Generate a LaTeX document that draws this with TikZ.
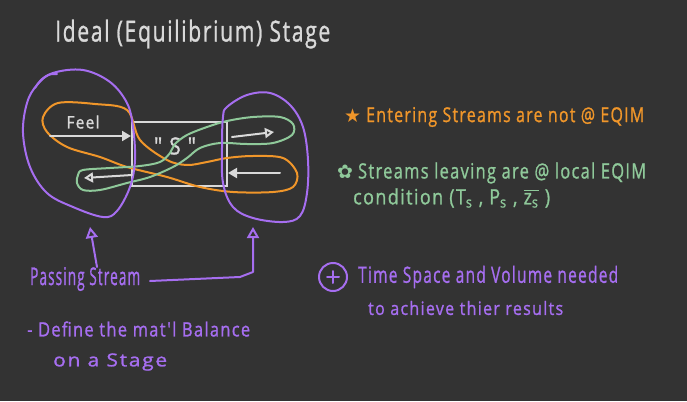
\documentclass[tikz,border=0pt]{standalone}
\usepackage{fontspec}
\usetikzlibrary{arrows.meta}
\newfontfamily\hand[LetterSpace=8,FakeBold=1.2]{Open Sans}
\newfontfamily\symf{DejaVu Sans}
\definecolor{bg}{HTML}{333333}
\definecolor{chalk}{HTML}{D9D9D9}
\definecolor{lav}{HTML}{A66EF0}
\definecolor{org}{HTML}{F0962A}
\definecolor{mint}{HTML}{8FC99A}
\newcommand{\hw}[3]{\resizebox{#1}{#2}{\hand #3}}
\begin{document}
\begin{tikzpicture}[x=1pt,y=-1pt,
  txt/.style={anchor=west, inner sep=0pt},
  stroke/.style={line width=2pt, line cap=round, line join=round},
  blob/.style={stroke, lav},
  loopo/.style={stroke, org},
  loopg/.style={stroke, mint},
  flow/.style={stroke, chalk},
  fillhead/.style={-{Triangle[length=9pt,width=10pt]}},
  openhead/.style={-{Triangle[open,length=9pt,width=10pt]}},
  bighead/.style={-{Triangle[open,length=11pt,width=12pt]}}]
\fill[bg] (0,0) rectangle (687,401);
\useasboundingbox (0,0) rectangle (687,401);

% title
\node[txt, text=chalk] (title) at (55,34) {\hw{275pt}{22pt}{Ideal (Equilibrium) Stage}};

% stage box
\node[draw=chalk, line width=2pt, minimum width=95pt, minimum height=64pt, inner sep=0pt] (stage) at (179.5,153.5) {};
\node[text=chalk, inner sep=0pt] (s) at (175,146) {\hw{42pt}{17pt}{"\,\,S\,\,"}};

% orange loop
\draw[loopo] plot[smooth cycle, tension=0.55] coordinates {
 (58,103) (95,104) (127,110) (140,140) (167,160) (187,165) (207,162) (227,158)
 (253,156) (283,158) (297,173) (293,187) (273,192) (233,192) (200,187)
 (167,177) (127,167) (100,157) (67,147) (47,132) (43,117)};

% green loop
\draw[loopg] plot[smooth cycle, tension=0.55] coordinates {
 (83,170) (110,168) (140,166) (160,162) (170,153) (175,144) (187,135) (207,127)
 (227,121) (253,117) (280,117) (293,124) (292,135) (273,143) (247,144)
 (220,143) (200,148) (187,158) (173,167) (150,177) (127,183) (100,190)
 (83,190) (77,183) (78,175)};

% purple blobs
\draw[blob] plot[smooth cycle, tension=0.6] coordinates {
 (83,70) (110,82) (127,103) (133,127) (135,160) (130,187) (117,211) (103,217)
 (73,207) (47,193) (30,167) (23,133) (27,103) (37,85) (53,73)};
\draw[blob] (35,88) .. controls (42,76) and (50,73) .. (57,74);
\draw[blob] plot[smooth cycle, tension=0.6] coordinates {
 (227,107) (247,95) (270,93) (290,105) (303,127) (308,160) (307,193)
 (300,216) (283,222) (253,218) (233,207) (223,183) (222,147) (223,117)};

% streams
\node[text=chalk, inner sep=0pt] (feed) at (83,122) {\hw{33pt}{13pt}{Feel}};
\coordinate (feedS) at (50,136);
\draw[flow, fillhead] (feedS) -- (stage.west |- feedS);
\coordinate (v1S) at (232,137);
\coordinate (v1E) at (274,132);
\draw[flow, openhead] (v1S) -- (v1E);
\coordinate (l1S) at (280,173);
\draw[flow, fillhead] (l1S) -- (stage.east |- l1S);
\coordinate (v2S) at (132,175);
\coordinate (v2E) at (84,178);
\draw[flow, openhead] (v2S) -- (v2E);

% passing stream
\node[txt, text=lav] (ps) at (30,279) {\hw{110pt}{18pt}{Passing Stream}};
\coordinate (pa1) at (97,267);
\coordinate (pa1E) at (90,227);
\draw[blob, bighead] (pa1) -- (pa1E);
\coordinate (pa2) at (150,281);
\coordinate (pa2E) at (253,227);
\draw[blob, bighead] (pa2) -- (240,277) -- (253,272) -- (pa2E);

\node[txt, text=lav] (def) at (27,329) {\hw{223pt}{15pt}{- Define the mat'l Balance}};
\node[txt, text=lav] (def2) at (53,362) {\hw{114pt}{13pt}{on a Stage}};

% right notes
\node[txt, text=org] (n1) at (344,117) {{\symf\fontsize{19}{19}\selectfont ★}\hspace{5pt}\hw{278pt}{15pt}{Entering Streams are not @ EQIM}};
\node[txt, text=mint] (n2) at (337,173) {{\symf\fontsize{19}{19}\selectfont ✿}\hspace{5pt}\hw{288pt}{16pt}{Streams leaving are @ local EQIM}};
\node[txt, text=mint] (n3) at (353,198) {\hw{197pt}{16pt}{condition (T\textsubscript{s} , P\textsubscript{s} , $\overline{\mbox{\hand z\textsubscript{s}}}$ )}};

\node[draw=lav, circle, line width=2pt, minimum size=28pt, inner sep=0pt] (plus) at (333,277) {};
\draw[blob] (plus.center) ++(0,-6) -- ++(0,12);
\draw[blob] (plus.center) ++(-6,0) -- ++(12,0);
\node[txt, text=lav] (t1) at (358,277) {\hw{260pt}{17pt}{Time Space and Volume needed}};
\node[txt, text=lav] (t2) at (368,308) {\hw{195pt}{14pt}{to achieve thier results}};
\end{tikzpicture}
\end{document}
